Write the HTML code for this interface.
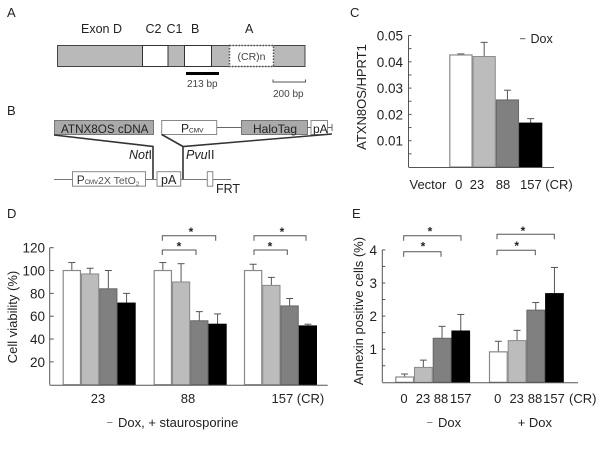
<!DOCTYPE html>
<html>
<head>
<meta charset="utf-8">
<style>
html,body{margin:0;padding:0;background:#fff;width:600px;height:450px;overflow:hidden}
svg{display:block;filter:blur(0.3px)}
text{font-family:"Liberation Sans",sans-serif;fill:#222}
</style>
</head>
<body>
<svg id="fig" width="600" height="450" viewBox="0 0 600 450" xmlns="http://www.w3.org/2000/svg">
<rect width="600" height="450" fill="#fff"/>

<g id="panel-a" font-size="12.5">
  <text x="7" y="17" font-size="13">A</text>
  <text x="81" y="33">Exon D</text>
  <text x="145.500" y="33">C2</text>
  <text x="166.500" y="33">C1</text>
  <text x="191" y="33">B</text>
  <text x="245" y="33">A</text>
  <rect x="57.500" y="45.500" width="247.500" height="21" fill="#b9b9b9" stroke="#444"/>
  <rect x="142.500" y="45.500" width="25.500" height="21" fill="#fff" stroke="#333"/>
  <rect x="184.500" y="45.500" width="27" height="21" fill="#fff" stroke="#333"/>
  <rect x="229.500" y="45.500" width="44" height="21" fill="#fff" stroke="#555" stroke-width="1.500" stroke-dasharray="1.500 1.500"/>
  <text x="251.500" y="60" font-size="10.500" text-anchor="middle" style="fill:#444">(CR)n</text>
  <rect x="186" y="72" width="33" height="3" fill="#000"/>
  <text x="187" y="87" font-size="10" style="fill:#444">213 bp</text>
  <path d="M273 79.500V82H305.500V79.500" fill="none" stroke="#555"/>
  <text x="273" y="97" font-size="10" style="fill:#444">200 bp</text>
</g>

<g id="panel-b" font-size="12.500">
  <text x="7" y="115" font-size="13">B</text>
  <rect x="54.500" y="120.500" width="99" height="14" fill="#aaa" stroke="#777"/>
  <text x="61" y="133" font-size="11.700">ATNX8OS cDNA</text>
  <rect x="161.700" y="120.500" width="55" height="14" fill="#fff" stroke="#888"/>
  <text x="181" y="132.500" font-size="12">P<tspan font-size="6.500">CMV</tspan></text>
  <path d="M217 127.500H241" stroke="#666"/>
  <rect x="241.500" y="120.500" width="66" height="14" fill="#aaa" stroke="#777"/>
  <text x="253" y="133" font-size="12">HaloTag</text>
  <rect x="311" y="120.500" width="16.500" height="14" fill="#fff" stroke="#888"/>
  <text x="313" y="133" font-size="12">pA</text>
  <path d="M307.500 127.500H311M327.500 127.500H332M332 124V131" stroke="#666" fill="none"/>
  <path d="M54 135L153 146.500V179" stroke="#333" stroke-width="1.600" fill="none"/>
  <path d="M161.700 134.500L183 146.500L332 134M183 146V179" stroke="#333" stroke-width="1.600" fill="none"/>
  <text x="129" y="159"><tspan font-style="italic">Not</tspan>I</text>
  <text x="186" y="159"><tspan font-style="italic">Pvu</tspan>II</text>
  <path d="M54 179.500H231" stroke="#777"/>
  <rect x="72.500" y="171.700" width="73" height="14.500" fill="#fff" stroke="#888"/>
  <text x="76.700" y="184" font-size="12" style="fill:#333">P<tspan font-size="6">CMV</tspan><tspan x="98" font-size="10.500" style="fill:#555">2X TetO</tspan><tspan font-size="6.500" dy="2" style="fill:#555">2</tspan></text>
  <rect x="157" y="171.700" width="23.700" height="14.500" fill="#fff" stroke="#888"/>
  <text x="161" y="184">pA</text>
  <rect x="207.300" y="171.700" width="5.500" height="14.500" fill="#fff" stroke="#888"/>
  <text x="216" y="193">FRT</text>
</g>

<g id="panel-c"></g>
<g id="panel-d"></g>
<g id="panel-e"></g>
</svg>

<script>
var fills = ['#ffffff', '#bcbcbc', '#808080', '#000000'];
var strokes = ['#8a8a8a', '#8a8a8a', '#666666', '#000000'];

/* Panel C data */
var cCategories = ['0', '23', '88', '157'];
var cValues = [0.0426, 0.042, 0.0255, 0.0167];
var cErrTops = [0.043, 0.0474, 0.0292, 0.0184];
var cTicks = ['0.01', '0.02', '0.03', '0.04', '0.05'];

/* Panel D data */
var dGroups = ['23', '88', '157 (CR)'];
var dValues = [[100, 97, 84, 71.5], [100, 90, 56, 53], [100, 87, 69, 51.5]];
var dErrTops = [[107, 102, 100, 80], [107, 106, 64, 62], [105.5, 94, 75.5, 53]];
var dTicks = ['20', '40', '60', '80', '100', '120'];

/* Panel E data */
var eCategories = ['0', '23', '88', '157'];
var eValues = [[0.16, 0.45, 1.33, 1.55], [0.92, 1.26, 2.18, 2.68]];
var eErrTops = [[0.25, 0.67, 1.69, 2.05], [1.24, 1.57, 2.41, 3.47]];
var eTicks = ['1', '2', '3', '4'];

var NS = 'http://www.w3.org/2000/svg';
function mk(parent, tag, attrs, txt) {
  var el = document.createElementNS(NS, tag);
  for (var k in attrs) el.setAttribute(k, attrs[k]);
  if (txt !== undefined) el.textContent = txt;
  parent.appendChild(el);
  return el;
}
function line(parent, x1, y1, x2, y2, color, name) {
  var el = mk(parent, 'line', {x1: x1, y1: y1, x2: x2, y2: y2, stroke: color, 'stroke-width': 1});
  
  
  return el;
}
function label(parent, x, y, str, anchor, size, name) {
  var el = mk(parent, 'text', {x: x, y: y, 'text-anchor': anchor, 'font-size': size}, str);
  
  
  return el;
}
function rotLabel(parent, x, y, str, size, name) {
  var el = mk(parent, 'text', {x: x, y: y, 'text-anchor': 'middle', 'font-size': size, transform: 'rotate(-90 ' + x + ' ' + y + ')'}, str);
  
  
  return el;
}
function bar(parent, x, w, yFn, val, top, i, name) {
  var y0 = yFn(0), yv = yFn(val), ye = yFn(top), cx = x + w / 2;
  var stem = line(parent, cx, yv, cx, ye, '#555', name + '-error');
  var cap = line(parent, cx - 3.5, ye, cx + 3.5, ye, '#555', name + '-error-cap');
  var r = mk(parent, 'rect', {x: x + 0.5, y: yv, width: w - 1, height: y0 - yv, fill: fills[i], stroke: strokes[i], 'stroke-width': i === 0 ? 1.2 : 1});
  
  
}
function bracket(parent, x1, x2, y, starX, starY, name) {
  var p = mk(parent, 'path', {d: 'M' + x1 + ' ' + (y + 5) + 'V' + y + 'H' + x2 + 'V' + (y + 5), fill: 'none', stroke: '#555'});
  
  
  var s = mk(parent, 'text', {x: starX, y: starY, 'text-anchor': 'middle', 'font-size': 12, 'font-weight': 'bold'}, '*');
  
  
}

/* ===== Panel C ===== */
(function () {
  var g = document.getElementById('panel-c');
  var axisX = 408.5, axisR = 554, y0 = 167, perUnit = 2630;
  var barX0 = 449.3, barW = 23.25;
  var y = function (v) { return y0 - v * perUnit; };
  var x = function (i) { return barX0 + i * barW; };
  label(g, 350, 17, 'C', 'start', 13, 'panel-c-letter');
  cValues.forEach(function (v, i) {
    bar(g, x(i), barW, y, v, cErrTops[i], i, 'bar-c-' + cCategories[i]);
  });
  line(g, axisX, y(0.05), axisX, y0, '#555', 'y-axis-c');
  line(g, axisX, y0 + 0.5, axisR, y0 + 0.5, '#555', 'x-axis-c');
  cTicks.forEach(function (t) {
    var v = parseFloat(t);
    line(g, axisX, y(v), axisX + 3, y(v), '#555', 'y-tick-c');
    line(g, axisX, y(v - 0.005), axisX + 3, y(v - 0.005), '#555', 'y-minor-tick-c');
    label(g, 403, y(v) + 5, t, 'end', 13.500, 'y-tick-label-c');
  });
  rotLabel(g, 366, 97, 'ATXN8OS/HPRT1', 13, 'y-axis-title-c');
  label(g, 409.500, 189, 'Vector', 'start', 13, 'x-label-vector');
  label(g, 458.700, 189, cCategories[0], 'middle', 13, 'x-label-c');
  label(g, 477, 189, cCategories[1], 'middle', 13, 'x-label-c');
  label(g, 503, 189, cCategories[2], 'middle', 13, 'x-label-c');
  label(g, 520, 189, cCategories[3] + ' (CR)', 'start', 13, 'x-label-c');
  line(g, 520, 38.700, 525.500, 38.700, '#666', 'dox-dash-c');
  label(g, 530.500, 43, 'Dox', 'start', 12.500, 'dox-label-c');
})();

/* ===== Panel D ===== */
(function () {
  var g = document.getElementById('panel-d');
  var axisX = 49.7, axisR = 327.7, y0 = 384.7, perUnit = 1.1417;
  var groupX = [62.7, 153.7, 244], barW = 18.25;
  var groupLabelX = [98, 188, 271.5];
  var y = function (v) { return y0 - v * perUnit; };
  label(g, 7, 218, 'D', 'start', 13, 'panel-d-letter');
  dValues.forEach(function (vals, gi) {
    vals.forEach(function (v, i) {
      bar(g, groupX[gi] + i * barW, barW, y, v, dErrTops[gi][i], i, 'bar-d-' + gi + '-' + i);
    });
    label(g, groupLabelX[gi], 403, dGroups[gi], gi === 2 ? 'start' : 'middle', 13, 'x-label-d');
  });
  line(g, axisX, y(120), axisX, y0, '#555', 'y-axis-d');
  line(g, axisX, y0 + 0.5, axisR, y0 + 0.5, '#555', 'x-axis-d');
  dTicks.forEach(function (t) {
    var v = parseFloat(t);
    line(g, axisX, y(v), axisX + 4, y(v), '#555', 'y-tick-d');
    label(g, 45, y(v) + 5, t, 'end', 13.500, 'y-tick-label-d');
  });
  rotLabel(g, 17, 317, 'Cell viability (%)', 13, 'y-axis-title-d');
  line(g, 107, 422.500, 112.500, 422.500, '#888', 'dox-dash-d');
  label(g, 118, 427, 'Dox, + staurosporine', 'start', 13, 'x-axis-title-d');
  bracket(g, 162.3, 215.7, 235.7, 191, 236, 'bracket-d-88-157');
  bracket(g, 162.3, 196, 250, 179, 250.5, 'bracket-d-88-88');
  bracket(g, 254, 306, 235.7, 282, 236, 'bracket-d-157-157');
  bracket(g, 254, 287.3, 250, 270, 250.5, 'bracket-d-157-88');
})();

/* ===== Panel E ===== */
(function () {
  var g = document.getElementById('panel-e');
  var axisX = 382.3, axisR = 578, y0 = 382.3, perUnit = 33.1;
  var groupX = [395.3, 489], barW = 18.7;
  var labelX = [[404, 423, 441, 460.7], [497.7, 516.7, 535, 554]];
  var y = function (v) { return y0 - v * perUnit; };
  label(g, 352, 218, 'E', 'start', 13, 'panel-e-letter');
  eValues.forEach(function (vals, gi) {
    vals.forEach(function (v, i) {
      bar(g, groupX[gi] + i * barW, barW, y, v, eErrTops[gi][i], i, 'bar-e-' + gi + '-' + i);
      label(g, labelX[gi][i], 403, eCategories[i], 'middle', 13, 'x-label-e');
    });
  });
  line(g, axisX, y(4), axisX, y0, '#555', 'y-axis-e');
  line(g, axisX, y0 + 0.5, axisR, y0 + 0.5, '#555', 'x-axis-e');
  eTicks.forEach(function (t) {
    var v = parseFloat(t);
    line(g, axisX, y(v), axisX + 3, y(v), '#555', 'y-tick-e');
    line(g, axisX, y(v - 0.5), axisX + 3, y(v - 0.5), '#555', 'y-minor-tick-e');
    label(g, 377, y(v) + 5, t, 'end', 13.500, 'y-tick-label-e');
  });
  rotLabel(g, 363, 311, 'Annexin positive cells (%)', 13, 'y-axis-title-e');
  label(g, 569, 403, '(CR)', 'start', 13, 'x-unit-label-e');
  line(g, 427, 422.500, 432.500, 422.500, '#888', 'minus-dox-dash');
  label(g, 438, 427, 'Dox', 'start', 13, 'minus-dox-label');
  label(g, 517.700, 427, '+ Dox', 'start', 13, 'plus-dox-label');
  bracket(g, 403.7, 461, 235.7, 430, 235.5, 'bracket-e-minus-157');
  bracket(g, 403.7, 441, 251.7, 423, 250.5, 'bracket-e-minus-88');
  bracket(g, 497, 554.3, 234.3, 523, 235, 'bracket-e-plus-157');
  bracket(g, 497, 535.3, 250.3, 516.7, 250, 'bracket-e-plus-88');
})();
</script>
</body>
</html>
